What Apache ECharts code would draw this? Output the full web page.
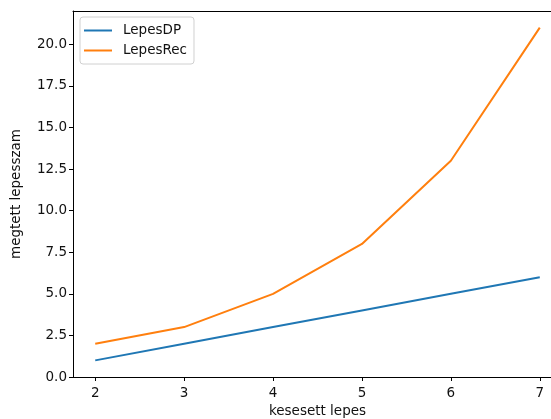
<!DOCTYPE html>
<html><head><meta charset="utf-8">
<script src="https://cdn.jsdelivr.net/npm/echarts@6/dist/echarts.min.js"></script>
<style>html,body{margin:0;padding:0;background:#fff}#c{width:551px;height:419px}</style>
</head><body><div id="c"></div>
<script>
const xValues = [2, 3, 4, 5, 6, 7];
const lepesDP = [1, 2, 3, 4, 5, 6];
const lepesRec = [2, 3, 5, 8, 13, 21];
const xTicks = [2, 3, 4, 5, 6, 7];
const yTicks = [0, 2.5, 5, 7.5, 10, 12.5, 15, 17.5, 20];

const chart = echarts.init(document.getElementById('c'), null, {renderer: 'canvas'});
const font = 'DejaVu Sans';
const fs = 13.5;
chart.setOption({
  animation: false,
  backgroundColor: '#fff',
  grid: {left: 73, top: 11, width: 489, height: 366, show: false, containLabel: false, outerBoundsMode: 'none'},
  legend: {
    orient: 'vertical', left: 80, top: 17,
    padding: [6, 7, 6, 4], itemGap: 5, itemWidth: 28, itemHeight: 2, icon: 'rect',
    borderColor: '#d0d0d0', borderWidth: 1, borderRadius: 3, backgroundColor: '#fff',
    textStyle: {fontFamily: font, fontSize: fs, color: '#111', padding: [0, 0, 0, 6], lineHeight: 15},
    data: ['LepesDP', 'LepesRec']
  },
  xAxis: [{
    type: 'value', min: 1.75, max: 7.25,
    name: 'kesesett lepes', nameLocation: 'middle', nameGap: 27,
    nameTextStyle: {fontFamily: font, fontSize: fs, color: '#111'},
    axisLine: {show: true, lineStyle: {color: '#000', width: 1}},
    axisTick: {show: true, length: 4, lineStyle: {color: '#000'}, customValues: xTicks},
    axisLabel: {fontFamily: font, fontSize: fs, color: '#111', margin: 9, customValues: xTicks},
    splitLine: {show: false}
  }, {
    type: 'value', min: 1.75, max: 7.25, position: 'top',
    axisLine: {show: true, onZero: false, lineStyle: {color: '#000', width: 1}},
    axisTick: {show: false}, axisLabel: {show: false}, splitLine: {show: false}
  }],
  yAxis: {
    type: 'value', min: 0, max: 22,
    name: 'megtett lepesszam', nameLocation: 'middle', nameGap: 50,
    nameTextStyle: {fontFamily: font, fontSize: fs, color: '#111'},
    axisLine: {show: true, lineStyle: {color: '#000', width: 1}},
    axisTick: {show: true, length: 4, lineStyle: {color: '#000'}, customValues: yTicks},
    axisLabel: {fontFamily: font, fontSize: fs, color: '#111', margin: 6, customValues: yTicks,
      formatter: v => v.toFixed(1)},
    splitLine: {show: false}
  },
  series: [
    {name: 'LepesDP', type: 'line', data: xValues.map((x, i) => [x, lepesDP[i]]),
     symbol: 'none', lineStyle: {color: '#1f77b4', width: 2}, itemStyle: {color: '#1f77b4'}},
    {name: 'LepesRec', type: 'line', data: xValues.map((x, i) => [x, lepesRec[i]]),
     symbol: 'none', lineStyle: {color: '#ff7f0e', width: 2}, itemStyle: {color: '#ff7f0e'}}
  ]
});
</script></body></html>
